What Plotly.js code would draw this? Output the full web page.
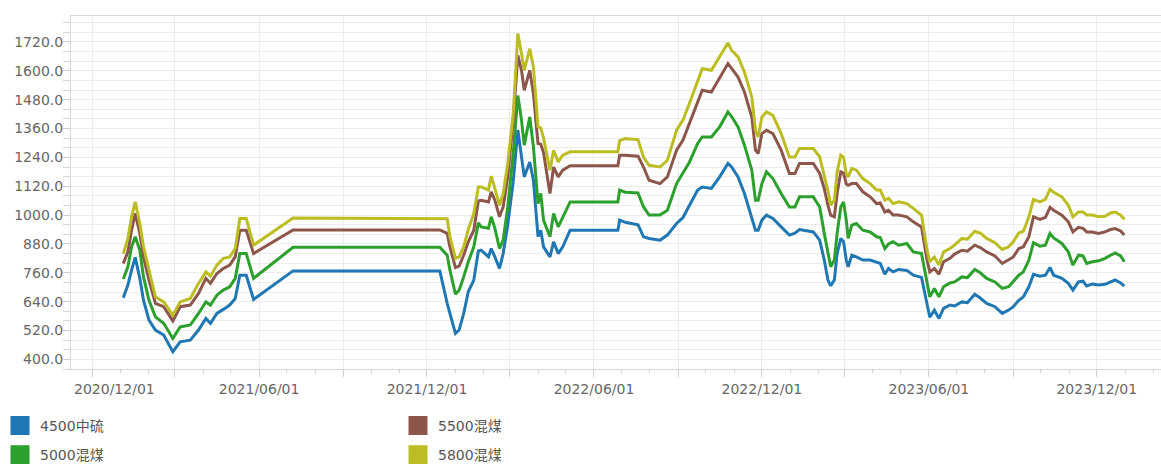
<!DOCTYPE html>
<html>
<head>
<meta charset="utf-8">
<script src="https://cdn.plot.ly/plotly-3.0.1.min.js"></script>
<style>
  html, body { margin: 0; padding: 0; background: #fff; }
  #chart { width: 1161px; height: 464px; }
</style>
</head>
<body>
<div id="chart"></div>
<script>
// ---- data ----
const seriesNames = ['4500中硫', '5000混煤', '5500混煤', '5800混煤'];
const seriesColors = ['#1f77b4', '#2ca02c', '#8c564b', '#bcbd22'];

const dates = [
  '2021-01-04','2021-01-09','2021-01-13','2021-01-17','2021-01-22','2021-01-26','2021-02-01','2021-02-08',
  '2021-02-17','2021-02-27','2021-03-07','2021-03-18','2021-03-27','2021-04-04','2021-04-09','2021-04-16',
  '2021-04-23','2021-04-30','2021-05-06','2021-05-11','2021-05-18','2021-05-26','2021-07-08','2021-12-15',
  '2021-12-23','2021-12-26','2022-01-01','2022-01-05','2022-01-10','2022-01-15','2022-01-21','2022-01-26',
  '2022-01-29','2022-02-06','2022-02-09','2022-02-13','2022-02-18','2022-02-22','2022-02-27','2022-03-05',
  '2022-03-10','2022-03-14','2022-03-17','2022-03-23','2022-03-27','2022-04-01','2022-04-04','2022-04-07',
  '2022-04-14','2022-04-18','2022-04-23','2022-04-28','2022-05-06','2022-06-27','2022-06-29','2022-07-05',
  '2022-07-19','2022-07-25','2022-07-31','2022-08-12','2022-08-20','2022-08-30','2022-09-06','2022-09-13',
  '2022-09-22','2022-09-27','2022-10-07','2022-10-16','2022-10-25','2022-10-29','2022-11-05','2022-11-12',
  '2022-11-20','2022-11-24','2022-11-27','2022-12-01','2022-12-06','2022-12-13','2022-12-22','2022-12-31',
  '2023-01-06','2023-01-11','2023-01-26','2023-02-02','2023-02-07','2023-02-11','2023-02-14','2023-02-18',
  '2023-02-21','2023-02-25','2023-02-28','2023-03-03','2023-03-05','2023-03-09','2023-03-14','2023-03-21',
  '2023-03-29','2023-04-05','2023-04-09','2023-04-14','2023-04-18','2023-04-23','2023-04-29','2023-05-08',
  '2023-05-15','2023-05-24','2023-05-30','2023-06-02','2023-06-07','2023-06-12','2023-06-17','2023-06-24',
  '2023-06-29','2023-07-07','2023-07-13','2023-07-21','2023-07-27','2023-08-03','2023-08-12','2023-08-20',
  '2023-08-27','2023-09-01','2023-09-07','2023-09-12','2023-09-18','2023-09-23','2023-09-30','2023-10-06',
  '2023-10-11','2023-10-15','2023-10-24','2023-10-31','2023-11-05','2023-11-11','2023-11-16','2023-11-20',
  '2023-11-26','2023-12-03','2023-12-10','2023-12-16','2023-12-21','2023-12-27','2023-12-31'
];

const s4500 = [
  656,709,771,824,737,646,563,522, 501,432,473,480,522,570,550,591,
  608,626,653,750,750,649,768,768, 633,591,508,522,591,681,730,851,
  854,826,861,826,778,840,960,1140, 1354,1242,1159,1221,1145,910,937,868,
  826,889,840,868,937,937,979,970, 960,910,903,896,917,965,990,1040,
  1104,1117,1111,1159,1215,1200,1159,1090, 993,937,937,979,1000,986,951,917,
  925,940,930,896,813,730,706,730, 840,903,890,813,785,833,826,813,
  813,806,799,754,778,764,774,770, 750,741,633,575,605,570,612,626,
  622,639,636,671,655,633,619,591, 605,619,646,660,702,754,746,750,
  782,750,737,716,688,722,725,705, 713,709,712,722,730,718,705
];

const s5000 = [
  734,785,868,910,854,743,646,577, 550,487,535,543,591,639,626,667,
  688,702,737,840,840,737,866,866, 833,771,671,688,743,806,868,968,
  951,945,993,945,861,896,1034,1256, 1497,1395,1291,1408,1284,1048,1090,979,
  910,1007,951,993,1055,1055,1104,1095, 1092,1034,1000,1000,1020,1131,1173,1220,
  1298,1325,1325,1367,1429,1410,1367,1291, 1187,1062,1062,1131,1180,1152,1090,1034,
  1034,1076,1076,1034,924,850,785,813, 924,1034,1055,979,903,958,965,937,
  930,910,907,861,880,889,875,882, 847,840,716,660,695,660,702,718,
  722,743,740,774,760,737,722,695, 702,722,750,764,813,885,871,875,
  924,905,882,847,792,833,830,799, 806,810,820,833,843,830,806
];

const s5500 = [
  799,847,937,1007,924,826,730,633, 619,560,619,626,674,737,716,757,
  778,792,826,937,937,840,938,938, 924,868,782,788,833,889,937,1059,
  1062,1055,1097,1062,993,1034,1159,1395, 1664,1602,1519,1602,1505,1298,1295,1260,
  1090,1200,1159,1187,1205,1205,1249,1249, 1245,1200,1145,1131,1159,1270,1312,1381,
  1478,1519,1512,1574,1630,1610,1574,1512, 1408,1270,1256,1339,1353,1339,1270,1173,
  1173,1215,1215,1173,1110,1040,1000,993, 1090,1180,1175,1130,1124,1131,1131,1097,
  1076,1048,1051,1013,1020,1000,1000,993, 972,951,813,764,778,754,806,820,
  838,854,850,875,865,847,830,799, 813,826,861,868,910,993,982,990,
  1032,1020,1000,972,930,949,945,930, 930,924,930,940,944,934,917
];

const s5800 = [
  840,903,993,1055,965,868,771,660, 639,584,639,653,716,764,746,792,
  820,826,861,986,986,875,988,988, 985,910,820,826,868,940,1007,1117,
  1117,1104,1162,1111,1041,1090,1215,1422, 1755,1672,1602,1692,1616,1367,1363,1320,
  1187,1270,1221,1249,1263,1263,1310,1318, 1314,1240,1207,1200,1228,1353,1395,1464,
  1554,1609,1602,1658,1716,1685,1658,1595, 1491,1353,1325,1408,1429,1415,1339,1242,
  1242,1277,1277,1242,1165,1100,1041,1062, 1180,1249,1240,1170,1159,1194,1187,1152,
  1131,1104,1104,1062,1070,1048,1055,1048, 1028,1000,854,806,826,792,847,861,
  875,903,900,933,925,903,885,857, 868,889,926,933,993,1065,1055,1065,
  1107,1095,1076,1041,993,1013,1013,1000, 1000,993,995,1009,1013,1000,983
];

const seriesValues = [s4500, s5000, s5500, s5800];

// axis ticks
const xTickVals = ['2020-12-01','2021-03-01','2021-06-01','2021-09-01','2021-12-01','2022-03-01','2022-06-01',
                   '2022-09-01','2022-12-01','2023-03-01','2023-06-01','2023-09-01','2023-12-01'];
const xTickText = ['\u00a0\u00a0\u00a0\u00a0\u00a0\u00a0\u00a0\u00a0\u00a0\u00a02020/12/01','','2021/06/01','','2021/12/01','','2022/06/01',
                   '','2022/12/01','','2023/06/01','','2023/12/01'];
const yTickVals = [400,520,640,760,880,1000,1120,1240,1360,1480,1600,1720];

// ---- figure ----
const FONT = 'DejaVu Sans, Noto Sans CJK SC, sans-serif';
const traces = [];
seriesNames.forEach((name, i) => {
  traces.push({
    type: 'scatter', mode: 'lines', name: name,
    x: dates, y: seriesValues[i],
    line: { color: seriesColors[i], width: 3 },
    showlegend: false, hoverinfo: 'x+y+name'
  });
});
// legend entries (square swatches), row 1: 4500 & 5500, row 2: 5000 & 5800
const legendRow = ['legend', 'legend2', 'legend', 'legend2'];
seriesNames.forEach((name, i) => {
  traces.push({
    type: 'scatter', mode: 'markers', name: name,
    x: [null], y: [null],
    marker: { symbol: 'square', size: 16, color: seriesColors[i], line: { color: seriesColors[i], width: 3 } },
    legend: legendRow[i], showlegend: true, hoverinfo: 'skip'
  });
});

const legendCommon = {
  orientation: 'h', xref: 'container', yref: 'container',
  x: 0, xanchor: 'left', yanchor: 'middle',
  entrywidth: 353, entrywidthmode: 'pixels',
  font: { family: FONT, size: 14, color: '#555' },
  bgcolor: 'rgba(0,0,0,0)', borderwidth: 0,
  itemclick: false, itemdoubleclick: false
};

const layout = {
  width: 1161, height: 464,
  margin: { l: 71, r: 0, t: 16, b: 95, pad: 0 },
  paper_bgcolor: '#fff', plot_bgcolor: '#fff',
  font: { family: FONT, size: 14, color: '#666' },
  showlegend: true,
  legend: Object.assign({}, legendCommon, { y: 0.082 }),
  legend2: Object.assign({}, legendCommon, { y: 0.019 }),
  xaxis: {
    type: 'date',
    range: ['2020-11-08', '2024-02-09'],
    tickmode: 'array', tickvals: xTickVals, ticktext: xTickText,
    ticks: 'outside', ticklen: 7, tickcolor: '#d0d0d0', tickwidth: 1,
    showgrid: true, gridcolor: '#ececec', gridwidth: 1,
    minor: { dtick: 'M1', tick0: '2020-12-01', ticks: 'outside', ticklen: 3, tickcolor: '#d0d0d0', showgrid: false },
    showline: true, mirror: true, linecolor: '#d6d6d6', linewidth: 1,
    zeroline: false, fixedrange: true,
    tickfont: { family: FONT, size: 14, color: '#666' }
  },
  yaxis: {
    range: [360, 1828],
    tickmode: 'array', tickvals: yTickVals, tickformat: '.1f',
    ticks: 'outside', ticklen: 7, tickcolor: '#d0d0d0', tickwidth: 1,
    ticklabelstandoff: -3,
    showgrid: true, gridcolor: '#ececec', gridwidth: 1,
    minor: { dtick: 40, tick0: 400, ticks: 'outside', ticklen: 7, tickcolor: '#d8d8d8', showgrid: true, gridcolor: '#ececec', gridwidth: 1 },
    showline: true, mirror: false, linecolor: '#d6d6d6', linewidth: 1,
    zeroline: false, fixedrange: true,
    tickfont: { family: FONT, size: 14, color: '#666' }
  }
};

Plotly.newPlot('chart', traces, layout, { displayModeBar: false, staticPlot: true });
</script>
</body>
</html>
